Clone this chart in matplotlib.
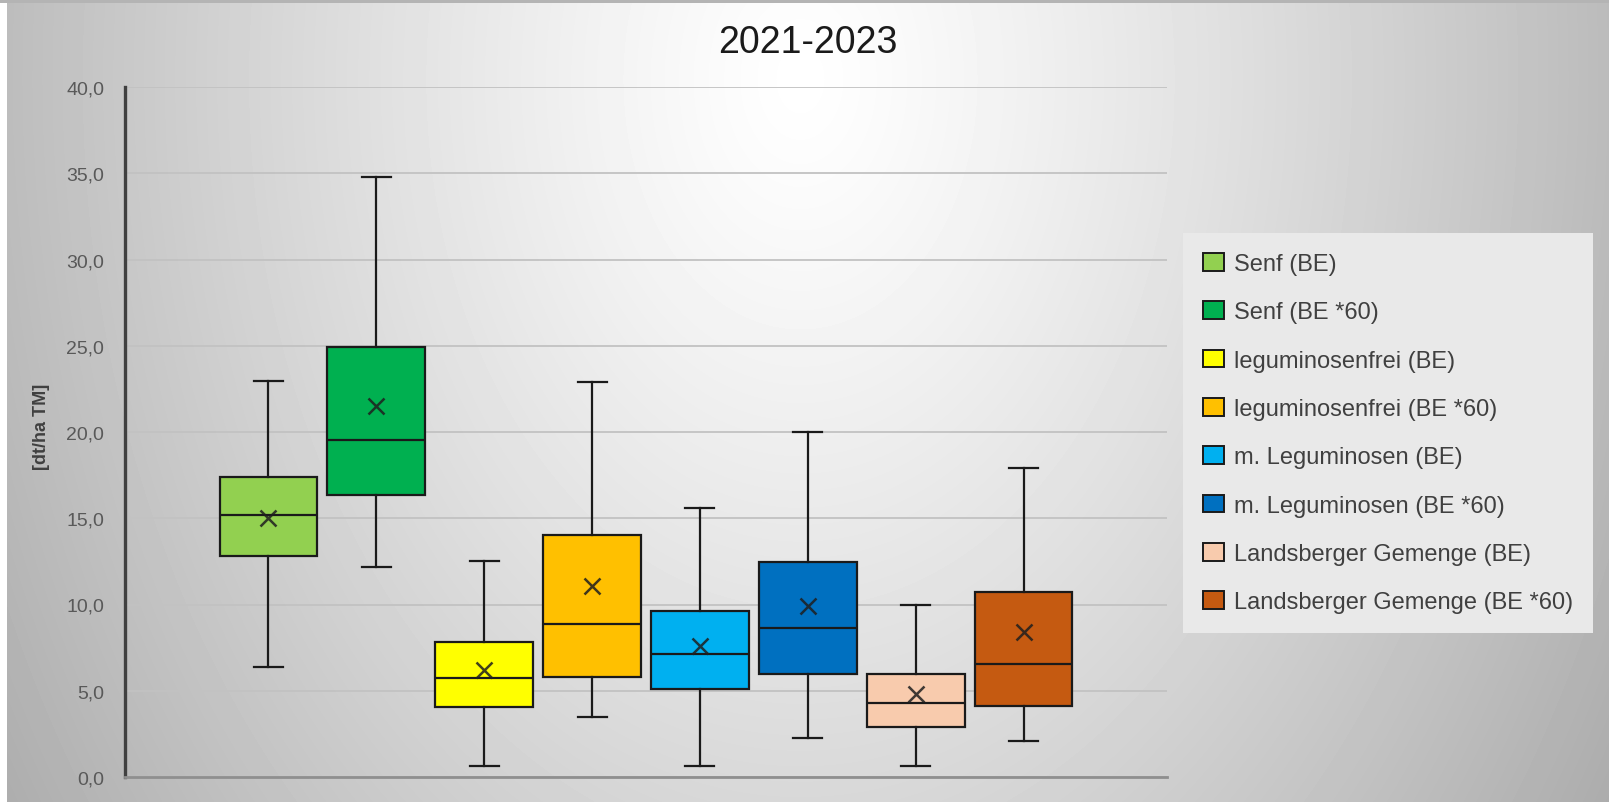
import numpy as np
import matplotlib.pyplot as plt
from matplotlib.patches import Patch, Rectangle

plt.rcParams['font.family'] = ['Liberation Sans', 'DejaVu Sans']

# Ertrag der Zwischenfrüchte 2021-2023, Kennwerte je Variante
labels = ['Senf (BE)', 'Senf (BE *60)', 'leguminosenfrei (BE)', 'leguminosenfrei (BE *60)',
          'm. Leguminosen (BE)', 'm. Leguminosen (BE *60)',
          'Landsberger Gemenge (BE)', 'Landsberger Gemenge (BE *60)']
colors = ['#92d050', '#00b050', '#ffff00', '#ffc000',
          '#00b0f0', '#0070c0', '#f8cbad', '#c55a11']
whislo = [6.4, 12.2, 0.65, 3.5, 0.65, 2.25, 0.65, 2.1]
q1 = [12.8, 16.35, 4.05, 5.8, 5.1, 6.0, 2.9, 4.1]
med = [15.2, 19.55, 5.75, 8.85, 7.15, 8.65, 4.3, 6.55]
q3 = [17.4, 24.9, 7.8, 14.05, 9.65, 12.45, 6.0, 10.7]
whishi = [22.95, 34.8, 12.55, 22.9, 15.6, 20.0, 10.0, 17.9]
means = [15.0, 21.5, 6.2, 11.05, 7.6, 9.9, 4.8, 8.4]
yticks = [0, 5, 10, 15, 20, 25, 30, 35, 40]
ytick_labels = ['0,0', '5,0', '10,0', '15,0', '20,0', '25,0', '30,0', '35,0', '40,0']

W, H = 1609, 803
fig = plt.figure(figsize=(W / 100, H / 100), dpi=100)

# grauer Verlaufshintergrund, hell oben in der Mitte
bg = fig.add_axes([0, 0, 1, 1], zorder=-10)
yy, xx = np.mgrid[0:H, 0:W]
r = np.sqrt(((xx - 800) / 850.0) ** 2 + ((yy - 80) / 1200.0) ** 2)
val = np.clip(255 - 72 * r ** 1.2, 170, 255) / 255.0
bg.imshow(val, cmap='gray', vmin=0, vmax=1, aspect='auto', interpolation='bilinear')
bg.axis('off')
fig.patches.append(Rectangle((0, 0), 7 / W, 1, transform=fig.transFigure,
                             facecolor='white', edgecolor='none', zorder=-5))
fig.patches.append(Rectangle((0, 1 - 4 / H), 1, 4 / H, transform=fig.transFigure,
                             facecolor='#b4b4b4', edgecolor='none', zorder=-5))

ax = fig.add_axes([125 / W, 1 - 778 / H, (1167 - 125) / W, (778 - 88) / H])
ax.set_facecolor('none')

stats = []
for i in range(len(labels)):
    stats.append(dict(whislo=whislo[i], q1=q1[i], med=med[i], q3=q3[i],
                      whishi=whishi[i], mean=means[i], label=labels[i]))

bp = ax.bxp(stats, positions=range(len(labels)), widths=0.907, capwidths=0.27,
            showmeans=True, showfliers=False, patch_artist=True, manage_ticks=False,
            boxprops=dict(edgecolor='#1a1a1a', linewidth=1.6),
            whiskerprops=dict(color='#1a1a1a', linewidth=1.6),
            capprops=dict(color='#1a1a1a', linewidth=1.6),
            medianprops=dict(color='#1a1a1a', linewidth=1.6),
            meanprops=dict(marker='x', markersize=12, markeredgewidth=1.8,
                           markeredgecolor='#1f1f1f', alpha=0.85))
for box, c in zip(bp['boxes'], colors):
    box.set_facecolor(c)

ax.set_xlim(-1.33, 8.33)
ax.set_ylim(0, 40)
ax.set_yticks(yticks)
ax.set_yticklabels(ytick_labels)
ax.set_xticks([])
ax.tick_params(axis='y', length=0, pad=15, labelsize=14, labelcolor='#595959')
ax.yaxis.grid(True, color='#c2c2c2', linewidth=1.3)
ax.set_axisbelow(True)
for s in ['top', 'right']:
    ax.spines[s].set_visible(False)
ax.spines['left'].set_color('#404040')
ax.spines['left'].set_linewidth(2.4)
ax.spines['bottom'].set_color('#8f8f8f')
ax.spines['bottom'].set_linewidth(2)

fig.text(41 / W, 1 - 427 / H, '[dt/ha TM]', rotation=90, ha='center', va='center',
         fontsize=13, fontweight='bold', color='#404040')
fig.text(0.502, 1 - 43 / H, '2021-2023', ha='center', va='center',
         fontsize=27, color='#1a1a1a')

handles = [Patch(facecolor=c, edgecolor='#1a1a1a', linewidth=1.4) for c in colors]
fig.legend(handles, labels, loc='upper left', bbox_to_anchor=(1183 / W, 1 - 234 / H),
           fontsize=17, labelcolor='#404040', frameon=True, facecolor='#e9e9e9',
           edgecolor='none', fancybox=False, framealpha=1, labelspacing=1.11,
           handlelength=0.89, handleheight=0.78, handletextpad=0.42,
           borderpad=0.85, borderaxespad=0)

fig.savefig('out.png', dpi=100)
